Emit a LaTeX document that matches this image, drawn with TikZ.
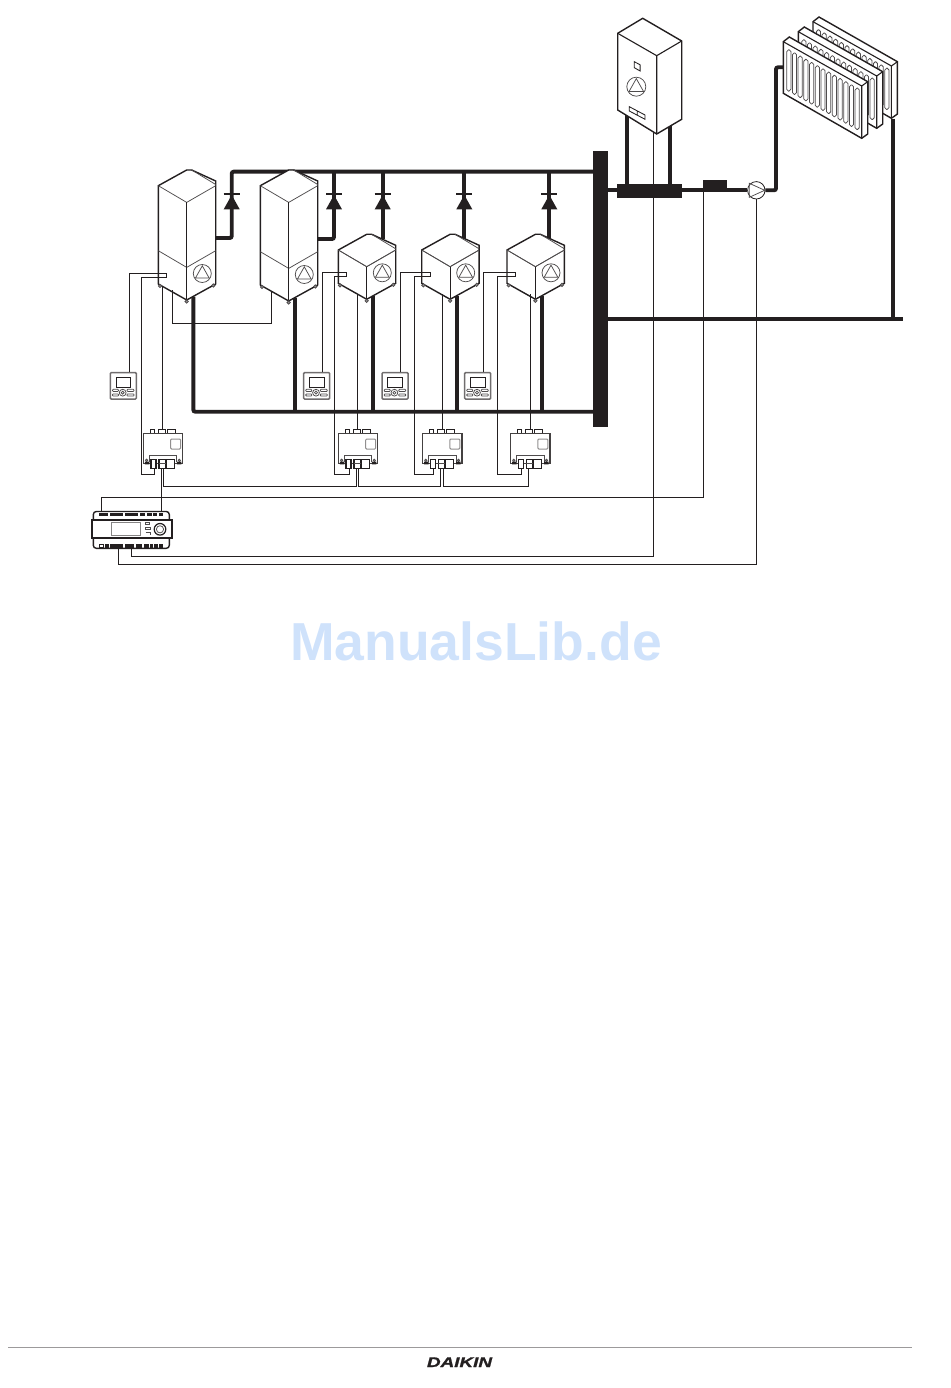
\documentclass[tikz,border=0pt]{standalone}
\usepackage{fontspec}
\newfontfamily\brandfont[FakeStretch=1.35,FakeBold=1.4]{Liberation Sans}
\newfontfamily\markfont{Liberation Sans}
\usetikzlibrary{calc}

\definecolor{ink}{HTML}{231F20}
\definecolor{markblue}{HTML}{CFE2FB}

\pgfdeclarelayer{pipes}
\pgfsetlayers{pipes,main}

\tikzset{
  outline/.style={draw=ink,line width=1.4pt,line join=miter,fill=white},
  fine/.style={draw=ink!80,line width=0.75pt},
  pics/fan/.style={code={
    \draw[fine] (0,0) circle[radius=#1pt];
    \draw[fine] (0,-0.85*#1) -- (-0.76*#1,0.5*#1) -- (0.76*#1,0.5*#1) -- cycle;
  }},
  pics/unit/.style={code={
    \draw[outline] (0,0) -- (0,-33.3-#1) -- (28.4,-49-#1) -- (33.4,-49-#1)
      -- (57.4,-38-#1) -- (57.4,0) -- (28.4,16) -- cycle;
    \draw[fine] (0,-33.3-#1) -- (28.4,-16.6-#1) -- (57.4,-33.3-#1);
    \draw[fine] (33.4,-49-#1) -- (57.4,-34.5-#1);
    \draw[fine] (0,-33.3) -- (28.4,-16.6) -- (57.4,-33.3);
    \draw[outline,fill=none,line width=1.1pt] (28.4,-16.6-#1) -- (28.4,16);
    \pic at (44,-10.5) {fan=9};
    \foreach \fx/\fy in {1.7/2,28.4/17.5,55/1.5}
      \draw[fine,fill=ink!50] (\fx,\fy) circle[radius=1.7pt];
    \coordinate (-out) at (57.4,-46);
    \coordinate (-up) at (44,-44);
    \coordinate (-down) at (35,12.5);
    \coordinate (-ta) at (8.5,-11);
    \coordinate (-tb) at (8.5,-6.6);
    \coordinate (-lowa) at (0,3);
    \coordinate (-lowb) at (0,11);
    \coordinate (-base) at (0,6);
  }},
  pics/valve/.style={code={
    \draw[ink,line width=1.5pt] (-8,0) -- (8,0);
    \fill[ink] (0,1) -- (8,15.3) -- (-8,15.3) -- cycle;
    \coordinate (-c) at (0,0);
  }},
  pics/panel/.style={code={
    \draw[draw=ink!65,line width=1.5pt,fill=white,rounded corners=1pt] (0.3,0.3) rectangle (26.4,26.7);
    \draw[ink,line width=1pt] (6,5) rectangle (20.7,15);
    \draw[fine] (12.7,20.4) circle[radius=3.4pt] (12.7,20.4) circle[radius=1.5pt];
    \draw[fine,rounded corners=0.8pt] (2.5,17) rectangle (8.5,19.2) (2.5,21.6) rectangle (8.5,23.8)
      (17,17) rectangle (24,19.2) (17,21.6) rectangle (24,23.8);
    \coordinate (-top) at (19,0);
  }},
  pics/cbox/.style={code={
    \foreach \ta/\tb in {7/11.4,15/22.4,24/32.4}
      \draw[ink,line width=1.1pt] (\ta,-4) rectangle (\tb,0);
    \draw[draw=ink!85,line width=1.4pt,fill=white] (0,0) rectangle (39.4,30);
    \draw[fine,rounded corners=1pt,draw=ink!50,line width=1pt] (27.4,5.7) rectangle (37.4,15.7);
    \draw[fine] (5.7,29) -- (5.7,22.5) -- (33.4,22.5) -- (33.4,29);
    \foreach \fx in {3.3,36}
      \draw[fine,fill=ink!40] (\fx,27) circle[radius=1.2pt];
    \foreach \ta/\tb in {7.7/12.7,15.7/22.4,23.4/31}
      \draw[ink,line width=1.1pt,fill=white] (\ta,26) rectangle (\tb,35);
    \draw[fine] (15.7,30) -- (22.4,30);
    \fill[ink] (1.5,28.4) rectangle (6,31) (33.5,28.4) rectangle (38,31);
    \coordinate (-top) at (19.5,-4);
    \coordinate (-rear) at (10.7,35);
    \coordinate (-busin) at (18,35);
    \coordinate (-busout) at (20.5,35);
  }},
  pics/plc/.style={code={
    \draw[outline,rounded corners=3pt] (1.6,12) -- (1.6,0.5) -- (77.6,0.5) -- (77.6,12);
    \draw[outline,rounded corners=3pt] (1.6,24) -- (1.6,37.3) -- (77.6,37.3) -- (77.6,24);
    \draw[draw=ink,line width=1.7pt,fill=white] (0,9) rectangle (80.6,27.3);
    \foreach \ta/\tb in {7.6/16.6,18.3/31.6,33.3/46.6,48.3/53.3,55/60,61.6/65.6,67.3/71.6}
      \fill[ink] (\ta,1.7) rectangle (\tb,5);
    \foreach \ta/\tb in {13/17.5,18.5/31.6,33.3/42,44/50,52/57,58.5/61,62.5/66,67/71.6}
      \fill[ink] (\ta,33.3) rectangle (\tb,36.7);
    \draw[ink,line width=0.8pt] (7.6,33.3) rectangle (12,36.7);
    \draw[fine,draw=ink!55,line width=1pt] (20,11.3) rectangle (48.3,24.7);
    \draw[fine] (54,11) rectangle (58,13.5) (54,16) rectangle (59,18) (54,21) -- (59,21) -- (59,24);
    \draw[ink,line width=1.2pt] (68.3,18.3) circle[radius=5.8pt];
    \draw[fine] (68.3,18.3) circle[radius=3.6pt];
    \coordinate (-ta) at (10,0.5);
    \coordinate (-tb) at (69,0.5);
    \coordinate (-ba) at (26.6,37.3);
    \coordinate (-bb) at (40,37.3);
  }},
  pics/boiler/.style={code={
    \draw[outline] (0,0) -- (25,-15) -- (64,7.7) -- (64,86) -- (39,100.7) -- (0,76.7) -- cycle;
    \draw[outline,fill=none,line width=1.1pt] (0,0) -- (39,22.4) -- (64,7.7) (39,22.4) -- (39,100.7);
    \draw[ink,line width=0.85pt] (16.6,28.4) -- (22.4,31.5) -- (22.4,37.7) -- (16.6,34.4) -- cycle;
    \pic at (18.6,53.4) {fan=9.5};
    \draw[ink,line width=0.85pt] (11.6,73.4) -- (27.3,81.7) -- (27.3,86) -- (11.6,77.7) -- cycle
      (19.5,77.6) -- (19.5,81.8);
    \coordinate (-pl) at (9,82.2);
    \coordinate (-pr) at (52.3,93);
    \coordinate (-wire) at (35.6,98.6);
  }},
  pics/rad/.style={code={
    \draw[outline] (0,0) -- (6,-4.7) -- (84.4,40) -- (84.4,92.3) -- (78.4,96.6) -- (0,51.6) -- cycle;
    \draw[outline,fill=none,line width=1.1pt] (0,0) -- (78.4,44.3) -- (84.4,40) (78.4,44.3) -- (78.4,96.6);
    \foreach \i in {0,...,12}
      \draw[fine,rounded corners=1.9pt]
        ({3.4+5.7*\i},{8+3.2*\i}) rectangle ++(4.2,41.5);
    \coordinate (-in) at (0,25.6);
    \coordinate (-out) at (79.7,97);
  }}
}

\begin{document}
\begin{tikzpicture}[x=1pt,y=-1pt,
  pipe/.style={draw=ink,line width=3.9pt,rounded corners=2pt},
  wire/.style={draw=ink,line width=1pt},
  solid block/.style={fill=ink,inner sep=0pt}]

  \useasboundingbox (0,0) rectangle (950,1388);

  \pic (tall1) at (158.3,284) {unit=65};
  \pic (tall2) at (260.3,285) {unit=66};
  \pic (cube1) at (338.3,283.3) {unit=0};
  \pic (cube2) at (421.7,283.3) {unit=0};
  \pic (cube3) at (507,283.3) {unit=0};

  \pic (valve1) at (231.7,194) {valve};
  \pic (valve2) at (334,194) {valve};
  \pic (valve3) at (382.7,194) {valve};
  \pic (valve4) at (464.3,194) {valve};
  \pic (valve5) at (549.3,194) {valve};

  \pic (ui1) at (110,372.3) {panel};
  \pic (ui2) at (303.3,372.3) {panel};
  \pic (ui3) at (381.7,372.3) {panel};
  \pic (ui4) at (464.3,372.3) {panel};

  \pic (cb1) at (143.3,433.3) {cbox};
  \pic (cb2) at (338.3,433.3) {cbox};
  \pic (cb3) at (422.5,433.3) {cbox};
  \pic (cb4) at (510.5,433.3) {cbox};

  \pic (plc) at (91.7,511) {plc};
  \pic (boiler) at (617.7,33.3) {boiler};
  \pic (rad3) at (813,21.7) {rad};
  \pic (rad2) at (798.3,31.7) {rad};
  \pic (rad1) at (783.3,41.7) {rad};

  \node[solid block,minimum width=15pt,minimum height=276pt] (bar) at (600.5,289) {};
  \node[solid block,minimum width=64.7pt,minimum height=13.7pt] (tank) at (649.3,190.9) {};
  \node[solid block,minimum width=23.7pt,minimum height=11pt] (meter) at (715.2,185.5) {};
  \node[circle,draw=ink,line width=0.8pt,fill=white,minimum size=17.4pt,inner sep=0pt] (pump) at (756.3,190.3) {};
  \draw[fine] ([xshift=-7pt,yshift=7pt]pump.center) -- ([xshift=8.4pt]pump.center)
    -- ([xshift=-7pt,yshift=-7pt]pump.center) -- cycle;

  \coordinate (topL) at (231.7,171.7);
  \coordinate (botR) at (593,411.7);
  \coordinate (radUp) at (776,67.3);
  \coordinate (retEnd) at (903,319);

  \begin{pgfonlayer}{pipes}
  \draw[pipe] (tall1-out) -| (topL) -- (bar.west |- topL);
  \draw[pipe] (tall2-out) -| (valve2-c |- topL);
  \draw[pipe] (valve3-c |- topL) -- (valve3-c |- cube1-up);
  \draw[pipe] (valve4-c |- topL) -- (valve4-c |- cube2-up);
  \draw[pipe] (valve5-c |- topL) -- (valve5-c |- cube3-up);
  \draw[pipe] (tall1-down) |- (botR);
  \draw[pipe] (tall2-down) -- (tall2-down |- botR);
  \draw[pipe] (cube1-down) -- (cube1-down |- botR);
  \draw[pipe] (cube2-down) -- (cube2-down |- botR);
  \draw[pipe] (cube3-down) -- (cube3-down |- botR);
  \draw[pipe] (bar.east |- pump.west) -- (pump.west);
  \draw[pipe] (pump.east) -| (radUp) -- (rad1-in);
  \draw[pipe] (boiler-pl) -- (boiler-pl |- tank.north);
  \draw[pipe] (boiler-pr) -- (boiler-pr |- tank.north);
  \draw[pipe] (bar.east |- retEnd) -- (retEnd);
  \draw[pipe] (rad3-out) -- (rad3-out |- retEnd);
  \end{pgfonlayer}

  \coordinate (lnkA) at (172.3,323.3);
  \coordinate (lnkB) at (271.7,323.3);
  \coordinate (rear1) at (141.7,474.3);
  \coordinate (rear2) at (334.3,474.3);
  \coordinate (rear3) at (414.3,474.3);
  \coordinate (rear4) at (497,474.3);
  \coordinate (busY) at (0,486);
  \coordinate (busA) at (703.3,497.3);
  \coordinate (wireA) at (653.3,556.3);
  \coordinate (wireB) at (756.3,564.3);

  \draw[wire] (lnkA |- tall1-base) -- (lnkA) -- (lnkB) -- (lnkB |- tall2-base);
  \draw[wire] (ui1-top) |- (tall1-ta) -- (tall1-tb) -| (rear1) -| (cb1-rear);
  \draw[wire] (ui2-top) |- (cube1-ta) -- (cube1-tb) -| (rear2) -| (cb2-rear);
  \draw[wire] (ui3-top) |- (cube2-ta) -- (cube2-tb) -| (rear3) -| (cb3-rear);
  \draw[wire] (ui4-top) |- (cube3-ta) -- (cube3-tb) -| (rear4) -| (cb4-rear);
  \draw[wire] (cb1-top) -- (cb1-top |- tall1-lowa);
  \draw[wire] (cb2-top) -- (cb2-top |- cube1-lowb);
  \draw[wire] (cb3-top) -- (cb3-top |- cube2-lowb);
  \draw[wire] (cb4-top) -- (cb4-top |- cube3-lowb);
  \draw[wire] (cb1-busout) |- (busY -| cb2-busin) -- (cb2-busin);
  \draw[wire] (cb2-busout) |- (busY -| cb3-busin) -- (cb3-busin);
  \draw[wire] (cb3-busout) |- (busY -| cb4-busin) -- (cb4-busin);
  \draw[wire] (cb1-busin) -- (cb1-busin |- plc-tb);
  \draw[wire] (plc-ta) |- (busA) -- (busA |- meter.south);
  \draw[wire] (plc-bb) |- (wireA) -- (wireA |- boiler-wire);
  \draw[wire] (plc-ba) |- (wireB) -- (wireB |- pump.south);

  \node[text=markblue,font=\markfont\bfseries\fontsize{53.5}{60}\selectfont,anchor=base,inner sep=0pt] (watermark) at (476,660) {ManualsLib.de};

  \coordinate (footL) at (8,1347.5);
  \coordinate (footR) at (912,1347.5);
  \draw[draw=ink!45,line width=1pt] (footL) -- (footR);
  \node[text=ink,font=\brandfont\bfseries\itshape\fontsize{14}{16}\selectfont,anchor=base,inner sep=0pt] (brand) at (459.5,1367) {DAIKIN};
\end{tikzpicture}
\end{document}
